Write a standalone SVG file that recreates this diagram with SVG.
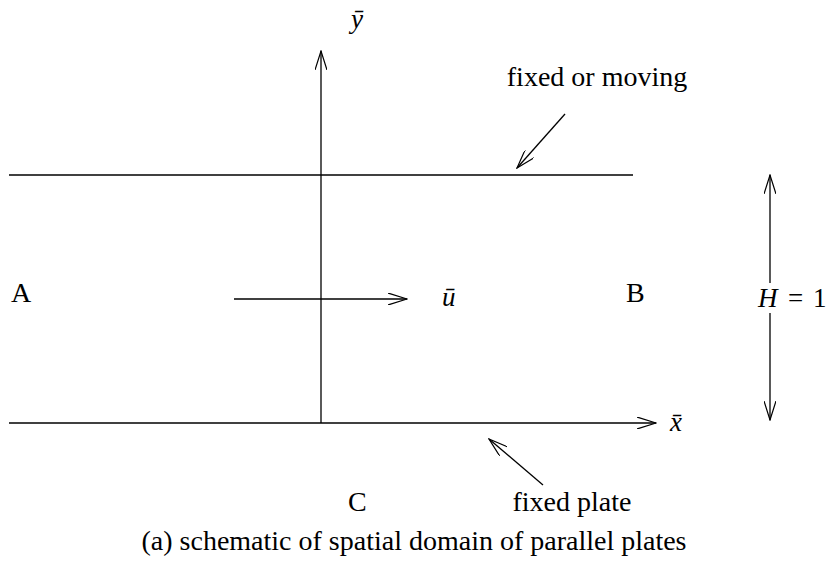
<svg xmlns="http://www.w3.org/2000/svg" width="828" height="569" viewBox="0 0 828 569">
<defs>
<style>
.ln{stroke:#000;stroke-width:1.3;fill:none}
.t{font-family:"Liberation Serif","Times New Roman",serif;font-size:28px;fill:#000}
.m{font-family:"Liberation Serif","Times New Roman",serif;font-size:27px;font-style:italic;fill:#000}
.n{font-family:"Liberation Serif","Times New Roman",serif;font-size:27px;fill:#000}
</style>
<marker id="ah" viewBox="0 0 20 12" refX="19" refY="6" markerWidth="20" markerHeight="12" markerUnits="userSpaceOnUse" orient="auto">
<path d="M0,0 L19,6 L0,12" fill="none" stroke="#000" stroke-width="1.2"/>
</marker>
</defs>
<rect width="828" height="569" fill="#fff"/>
<g id="plates">
<line class="ln" x1="9" y1="175" x2="633" y2="175"/>
</g>
<g id="connectors">
<line class="ln" x1="321" y1="423" x2="321" y2="51" marker-end="url(#ah)"/>
<line class="ln" x1="9" y1="423" x2="656" y2="423" marker-end="url(#ah)"/>
<line class="ln" x1="234" y1="299" x2="407" y2="299" marker-end="url(#ah)"/>
<line class="ln" x1="565" y1="114" x2="517" y2="168" marker-end="url(#ah)"/>
<line class="ln" x1="543" y1="485" x2="489" y2="439" marker-end="url(#ah)"/>
<line class="ln" x1="770" y1="283" x2="770" y2="175" marker-end="url(#ah)"/>
<line class="ln" x1="770" y1="313" x2="770" y2="420" marker-end="url(#ah)"/>
</g>
<g id="labels">
<text class="m" x="351" y="28">ȳ</text>
<text class="t" x="597" y="86" text-anchor="middle">fixed or moving</text>
<text class="t" x="11" y="302">A</text>
<text class="t" x="626" y="302">B</text>
<text class="m" x="442" y="306">ū</text>
<text class="m" x="670" y="431">x̄</text>
<text x="758" y="307"><tspan class="m">H</tspan><tspan class="n" x="788">=</tspan><tspan class="n" x="813">1</tspan></text>
<text class="t" x="348" y="511">C</text>
<text class="t" x="572" y="511" text-anchor="middle">fixed plate</text>
<text class="t" x="414" y="550" text-anchor="middle">(a)  schematic of spatial domain of parallel plates</text>
</g>
</svg>
